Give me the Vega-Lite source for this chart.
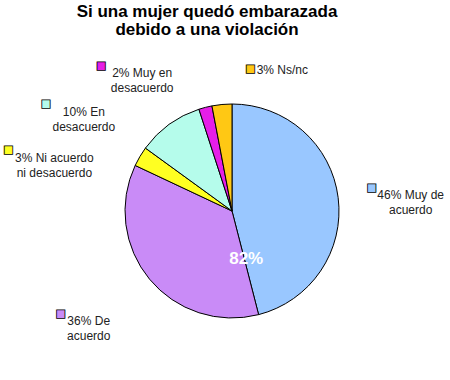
{
  "$schema": "https://vega.github.io/schema/vega-lite/v6.json",
  "width": 436,
  "height": 332,
  "autosize": {"type": "none"},
  "padding": {"left": 14, "top": 45, "right": 0, "bottom": 3},
  "background": "white",
  "view": {"stroke": null},
  "config": {"text": {"font": "Liberation Sans", "fontSize": 12, "color": "#222222"}},
  "title": {
    "text": ["Si una mujer quedó embarazada", "debido a una violación"],
    "font": "Liberation Sans",
    "fontSize": 17,
    "fontWeight": "bold",
    "lineHeight": 18,
    "color": "#000000",
    "anchor": "middle",
    "dx": -25,
    "offset": -5
  },
  "data": {
    "values": [
      {"cat": "Muy de acuerdo", "pct": 46, "order": 1},
      {"cat": "De acuerdo", "pct": 36, "order": 2},
      {"cat": "Ni acuerdo ni desacuerdo", "pct": 3, "order": 3},
      {"cat": "En desacuerdo", "pct": 10, "order": 4},
      {"cat": "Muy en desacuerdo", "pct": 2, "order": 5},
      {"cat": "Ns/nc", "pct": 3, "order": 6}
    ]
  },
  "encoding": {
    "theta": {"field": "pct", "type": "quantitative", "stack": true},
    "order": {"field": "order", "type": "quantitative"},
    "color": {
      "field": "cat",
      "type": "nominal",
      "legend": null,
      "scale": {
        "domain": ["Muy de acuerdo", "De acuerdo", "Ni acuerdo ni desacuerdo", "En desacuerdo", "Muy en desacuerdo", "Ns/nc"],
        "range": ["#99C7FF", "#C98BF7", "#FFFF22", "#B5FCEB", "#E51EE8", "#FFC814"]
      }
    }
  },
  "layer": [
    {"mark": {"type": "arc", "radius": 107, "stroke": "#000000", "strokeWidth": 1}},

    {"mark": {"type": "text", "radius": 170, "dx": 10, "dy": 5, "align": "center", "baseline": "middle", "lineHeight": 15},
     "encoding": {"color": {"value": "#222222"}, "text": {"condition": {"test": "datum.order === 1", "value": ["46% Muy de", "acuerdo"]}, "value": ""}}},
    {"mark": {"type": "text", "radius": 160, "dx": -20, "dy": 8, "align": "center", "baseline": "middle", "lineHeight": 15},
     "encoding": {"color": {"value": "#222222"}, "text": {"condition": {"test": "datum.order === 2", "value": ["36% De", "acuerdo"]}, "value": ""}}},
    {"mark": {"type": "text", "radius": 175, "dx": -27, "dy": 36, "align": "center", "baseline": "middle", "lineHeight": 15},
     "encoding": {"color": {"value": "#222222"}, "text": {"condition": {"test": "datum.order === 3", "value": ["3% Ni acuerdo", "ni desacuerdo"]}, "value": ""}}},
    {"mark": {"type": "text", "radius": 150, "dx": -60, "dy": 22, "align": "center", "baseline": "middle", "lineHeight": 15},
     "encoding": {"color": {"value": "#222222"}, "text": {"condition": {"test": "datum.order === 4", "value": ["10% En", "desacuerdo"]}, "value": ""}}},
    {"mark": {"type": "text", "radius": 140, "dx": -55, "dy": -2, "align": "center", "baseline": "middle", "lineHeight": 15},
     "encoding": {"color": {"value": "#222222"}, "text": {"condition": {"test": "datum.order === 5", "value": ["2% Muy en", "desacuerdo"]}, "value": ""}}},
    {"mark": {"type": "text", "radius": 145, "dx": 64, "dy": 3, "align": "center", "baseline": "middle"},
     "encoding": {"color": {"value": "#222222"}, "text": {"condition": {"test": "datum.order === 6", "value": "3% Ns/nc"}, "value": ""}}},

    {"mark": {"type": "text", "radius": 170, "dx": -29, "dy": -2, "align": "center", "baseline": "middle", "font": "DejaVu Sans", "fontSize": 11, "stroke": "#000000", "strokeWidth": 0.8},
     "encoding": {"text": {"condition": {"test": "datum.order === 1", "value": "■"}, "value": ""}}},
    {"mark": {"type": "text", "radius": 160, "dx": -48, "dy": 1, "align": "center", "baseline": "middle", "font": "DejaVu Sans", "fontSize": 11, "stroke": "#000000", "strokeWidth": 0.8},
     "encoding": {"text": {"condition": {"test": "datum.order === 2", "value": "■"}, "value": ""}}},
    {"mark": {"type": "text", "radius": 175, "dx": -73, "dy": 28, "align": "center", "baseline": "middle", "font": "DejaVu Sans", "fontSize": 11, "stroke": "#000000", "strokeWidth": 0.8},
     "encoding": {"text": {"condition": {"test": "datum.order === 3", "value": "■"}, "value": ""}}},
    {"mark": {"type": "text", "radius": 150, "dx": -98, "dy": 14, "align": "center", "baseline": "middle", "font": "DejaVu Sans", "fontSize": 11, "stroke": "#000000", "strokeWidth": 0.8},
     "encoding": {"text": {"condition": {"test": "datum.order === 4", "value": "■"}, "value": ""}}},
    {"mark": {"type": "text", "radius": 140, "dx": -96, "dy": -9, "align": "center", "baseline": "middle", "font": "DejaVu Sans", "fontSize": 11, "stroke": "#000000", "strokeWidth": 0.8},
     "encoding": {"text": {"condition": {"test": "datum.order === 5", "value": "■"}, "value": ""}}},
    {"mark": {"type": "text", "radius": 145, "dx": 32, "dy": 2, "align": "center", "baseline": "middle", "font": "DejaVu Sans", "fontSize": 11, "stroke": "#000000", "strokeWidth": 0.8},
     "encoding": {"text": {"condition": {"test": "datum.order === 6", "value": "■"}, "value": ""}}},

    {"mark": {"type": "text", "radius": 62, "dx": 62, "dy": 8, "align": "center", "baseline": "middle", "font": "Liberation Sans", "fontSize": 17, "fontWeight": "bold"},
     "encoding": {"color": {"value": "#FFFFFF"}, "text": {"condition": {"test": "datum.order === 2", "value": "82%"}, "value": ""}}}
  ]
}
